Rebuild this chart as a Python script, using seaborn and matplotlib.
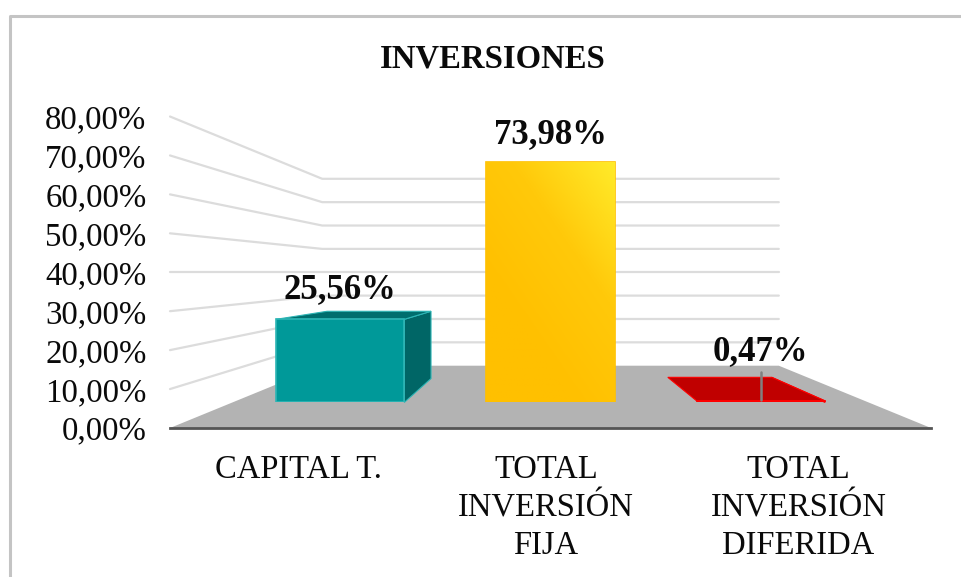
import numpy as np
import pandas as pd
import matplotlib
matplotlib.use('Agg')
import matplotlib.pyplot as plt
import seaborn as sns
from matplotlib.colors import LinearSegmentedColormap
from matplotlib.lines import Line2D
from matplotlib.patches import Polygon

categorias = ['CAPITAL T.', 'TOTAL\nINVERSIÓN\nFIJA', 'TOTAL\nINVERSIÓN\nDIFERIDA']
valores = [25.56, 73.98, 0.47]
ticks_y = [0, 10, 20, 30, 40, 50, 60, 70, 80]

colores = ['#009999', '#FFC000', '#C00000']
bordes = ['#2DB5B5', '#FFC000', '#FF0000']
colores_lado = ['#006666', '#FFC000', '#C00000']
colores_arriba = ['#006E6E', '#FFC000', '#C00000']
# how far each label sits above its bar (points)
offset_label = [15.6, 13.5, 29.5]
# category labels sit on the front edge of the floor, not under the bars
pos_categorias = [0.169, 0.494, 0.826]

W, H = 962, 577
FONDO_X = 0.2          # back wall inset on the main axes
PARED_BASE, PARED_ESC = 16.0, 0.6   # back wall position in axis units
VP = (0.973, 38.6)     # vanishing point, in bar axes units
PROF = 0.19            # bar depth towards VP

sns.set_style('white')
plt.rcParams['font.family'] = ['Liberation Serif', 'DejaVu Serif']

fig = plt.figure(figsize=(W / 100, H / 100), dpi=100)


def rect(left, top, right, bottom):
    return [left / W, 1 - bottom / H, (right - left) / W, (bottom - top) / H]


# main axes: y scale, walls and floor
ax = fig.add_axes(rect(170, 116.5, 931, 428))
ax.set_xlim(0, 1)
ax.set_ylim(0, 80)
ax.set_xticks(pos_categorias)
ax.set_xticklabels(categorias, fontsize=23.5, color='#0A0A0A', linespacing=1.33)
ax.set_yticks(ticks_y)
ax.set_yticklabels([f'{t:.2f}%'.replace('.', ',') for t in ticks_y], fontsize=23.7, color='#0A0A0A')
ax.tick_params(axis='y', length=0, pad=17)
ax.tick_params(axis='x', length=0, pad=19)
sns.despine(ax=ax, left=True, top=True, right=True)
ax.spines['bottom'].set_color('#555555')
ax.spines['bottom'].set_linewidth(2.0)
ax.spines['bottom'].set_zorder(5)

for t in ticks_y[1:]:
    back = PARED_BASE + PARED_ESC * t
    ax.plot([0, FONDO_X, 1 - FONDO_X], [t, back, back], color='#DCDCDC', lw=1.6, zorder=1, clip_on=False)

ax.add_patch(Polygon([(0, 0), (FONDO_X, PARED_BASE), (1 - FONDO_X, PARED_BASE), (1, 0)],
                     closed=True, facecolor='#B3B3B3', edgecolor='none', zorder=2))

# bars: front plane of the 3D box
ax_bars = fig.add_axes(rect(235, 142.4, 866, 402.4))
ax_bars.patch.set_alpha(0)
df = pd.DataFrame({'categoria': categorias, 'valor': valores})
sns.barplot(data=df, x='categoria', y='valor', hue='categoria', palette=colores, saturation=1,
            width=0.61, dodge=False, legend=False, ax=ax_bars, zorder=4)
ax_bars.set_xlim(-0.5, 2.5)
ax_bars.set_ylim(0, 80)
ax_bars.set_xlabel('')
ax_bars.set_ylabel('')
ax_bars.set_yticks([])
ax_bars.tick_params(axis='x', length=0, labelbottom=False)
sns.despine(ax=ax_bars, left=True, top=True, right=True, bottom=True)


def al_fondo(x, y):
    return (x + PROF * (VP[0] - x), y + PROF * (VP[1] - y))


barras = ax_bars.patches[:3]
for i, bar in enumerate(barras):
    x0, x1 = bar.get_x(), bar.get_x() + bar.get_width()
    top = bar.get_height()
    bar.set_edgecolor(bordes[i])
    bar.set_linewidth(1.2)
    # top face and right face, behind the front
    cara_top = [(x0, top), (x1, top), al_fondo(x1, top), al_fondo(x0, top)]
    cara_der = [(x1, 0), (x1, top), al_fondo(x1, top), al_fondo(x1, 0)]
    if i != 1:
        ax_bars.add_patch(Polygon(cara_der, closed=True, facecolor=colores_lado[i], edgecolor=bordes[i],
                                  lw=0.8, zorder=3, clip_on=False))
        ax_bars.add_patch(Polygon(cara_top, closed=True, facecolor=colores_arriba[i], edgecolor=bordes[i],
                                  lw=0.8, zorder=3, clip_on=False))
    ax_bars.annotate(f'{valores[i]:.2f}%'.replace('.', ','), xy=((x0 + x1) / 2, top),
                     xytext=(0, offset_label[i]), textcoords='offset points',
                     ha='center', va='baseline', fontsize=25, fontweight='bold', color='#0A0A0A', zorder=7)

# yellow gradient on the middle bar
bar = barras[1]
gx, gy = np.meshgrid(np.linspace(0, 1, 80), np.linspace(0, 1, 200))
grad = np.clip((gx + gy * 1.3 - 0.7) / 1.6, 0, 1)
cmap = LinearSegmentedColormap.from_list('amarillo', ['#FFC000', '#FFC90A', '#FFEB2A'])
img = ax_bars.imshow(grad, origin='lower', aspect='auto', cmap=cmap, zorder=4.5,
                     extent=(bar.get_x(), bar.get_x() + bar.get_width(), 0, bar.get_height()))
img.set_clip_path(bar)
ax_bars.set_xlim(-0.5, 2.5)
ax_bars.set_ylim(0, 80)

# leader line of the small bar
ax_bars.plot([2, 2], [0.7, 9.3], color='#808080', lw=1.8, zorder=6, clip_on=False)

fig.suptitle('INVERSIONES', x=493 / W, y=1 - 68 / H, va='baseline', fontsize=23.6,
             fontweight='bold', color='#0A0A0A')

# chart frame, only top and left show
fig.add_artist(Line2D([9.5 / W, 9.5 / W, 1], [0, 1 - 15.5 / H, 1 - 15.5 / H], color='#C4C4C4', lw=2.2))

fig.savefig('out.png', dpi=100)
